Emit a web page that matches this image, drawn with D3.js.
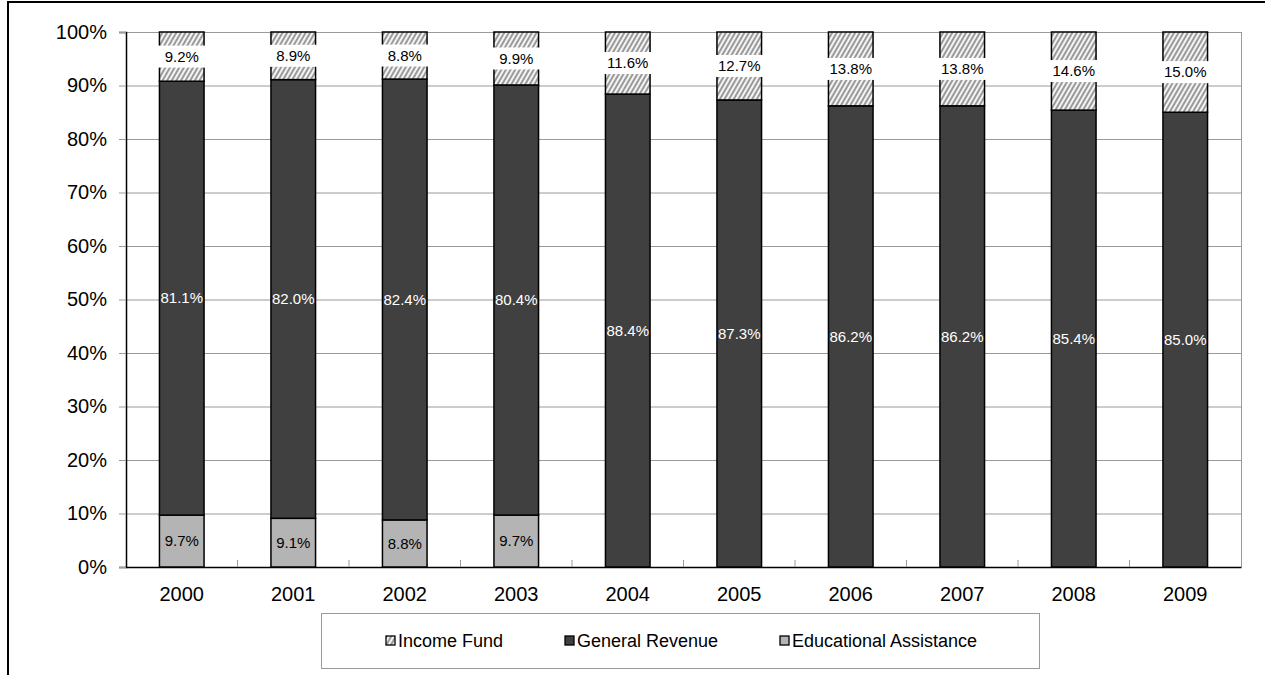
<!DOCTYPE html>
<html>
<head>
<meta charset="utf-8">
<script src="https://cdn.jsdelivr.net/npm/d3@7"></script>
<style>
  html, body { margin: 0; padding: 0; background: #fff; }
  svg { display: block; font-family: "Liberation Sans", Arial, sans-serif; }
</style>
</head>
<body>
<svg id="chart" width="1265" height="675"></svg>
<script>
const years = ["2000","2001","2002","2003","2004","2005","2006","2007","2008","2009"];
const incomeFund = [9.2, 8.9, 8.8, 9.9, 11.6, 12.7, 13.8, 13.8, 14.6, 15.0];
const generalRevenue = [81.1, 82.0, 82.4, 80.4, 88.4, 87.3, 86.2, 86.2, 85.4, 85.0];
const educationalAssistance = [9.7, 9.1, 8.8, 9.7, 0, 0, 0, 0, 0, 0];
const yTicks = [0,10,20,30,40,50,60,70,80,90,100];
const legendLabels = ["Income Fund", "General Revenue", "Educational Assistance"];

(function () {
const svg = d3.select("#chart");
const pLeft = 126, pRight = 1241, pTop = 32, pBottom = 567;

// Outer frame
svg.append("rect").attr("x", 8).attr("y", 2).attr("width", 1300).attr("height", 700)
  .attr("fill", "none").attr("stroke", "#000").attr("stroke-width", 2);

// Hatch pattern
const defs = svg.append("defs");
const pat = defs.append("pattern").attr("id", "hatch").attr("patternUnits", "userSpaceOnUse")
  .attr("width", 4).attr("height", 4).attr("patternTransform", "rotate(30)");
pat.append("rect").attr("width", 4).attr("height", 4).attr("fill", "#f4f4f4");
pat.append("line").attr("x1", 1).attr("y1", 0).attr("x2", 1).attr("y2", 4)
  .attr("stroke", "#6a6a6a").attr("stroke-width", 1.3);

const x = d3.scaleBand().domain(years).range([pLeft, pRight]).paddingInner(0.6).paddingOuter(0.3);
const y = d3.scaleLinear().domain([0, 100]).range([pBottom, pTop]);

// Gridlines
svg.append("g").selectAll("line").data(yTicks.filter(d => d > 0)).join("line")
  .attr("x1", pLeft).attr("x2", pRight)
  .attr("y1", d => y(d) + 0.5).attr("y2", d => y(d) + 0.5)
  .attr("stroke", "#9a9a9a").attr("stroke-width", 1);
// Right border of plot
svg.append("line").attr("x1", pRight + 0.5).attr("x2", pRight + 0.5).attr("y1", pTop).attr("y2", pBottom)
  .attr("stroke", "#9a9a9a").attr("stroke-width", 1);

// Y axis
const yAxis = d3.axisLeft(y).tickValues(yTicks).tickFormat(d => d + "%").tickSize(7).tickPadding(12);
const gy = svg.append("g").attr("transform", `translate(${pLeft},0)`).call(yAxis);
gy.select(".domain").attr("stroke", "#000").attr("stroke-width", 1.5);
gy.selectAll(".tick line").attr("stroke", "#9a9a9a");
gy.selectAll(".tick text").attr("font-size", 20).attr("fill", "#000")
  .attr("font-family", "Liberation Sans, Arial, sans-serif");

// X axis
const xAxis = d3.axisBottom(x).tickSize(0).tickPadding(20);
const gx = svg.append("g").attr("transform", `translate(0,${pBottom})`).call(xAxis);
gx.select(".domain").attr("stroke", "#000").attr("stroke-width", 1.5);
gx.selectAll(".tick text").attr("font-size", 20).attr("fill", "#000")
  .attr("font-family", "Liberation Sans, Arial, sans-serif");
// tick marks between categories
const step = x.step();
const boundaries = d3.range(1, years.length).map(i => pLeft + i * step);
svg.append("g").selectAll("line").data(boundaries).join("line")
  .attr("x1", d => d).attr("x2", d => d).attr("y1", pBottom - 7).attr("y2", pBottom)
  .attr("stroke", "#9a9a9a");

// Stacked data
const rows = years.map((yr, i) => ({
  year: yr, edu: educationalAssistance[i], gen: generalRevenue[i], inc: incomeFund[i]
}));
const stack = d3.stack().keys(["edu", "gen", "inc"]);
const series = stack(rows);
const fills = { edu: "#b4b4b4", gen: "#404040", inc: "url(#hatch)" };

const bars = svg.append("g");
series.forEach(s => {
  bars.append("g").selectAll("rect").data(s.filter(d => d[1] - d[0] > 0)).join("rect")
    .attr("x", d => x(d.data.year))
    .attr("width", x.bandwidth())
    .attr("y", d => y(d[1]))
    .attr("height", d => y(d[0]) - y(d[1]))
    .attr("fill", fills[s.key])
    .attr("stroke", "#000").attr("stroke-width", 1.5);
});

// Labels
const labels = svg.append("g").attr("font-size", 15);
series.forEach(s => {
  s.filter(d => d[1] - d[0] > 0).forEach(d => {
    const cx = x(d.data.year) + x.bandwidth() / 2;
    const cy = y((d[0] + d[1]) / 2);
    const txt = d.data[s.key].toFixed(1) + "%";
    if (s.key === "inc") {
      const t = labels.append("text").attr("x", cx).attr("y", cy).attr("dy", "0.35em")
        .attr("text-anchor", "middle").attr("fill", "#000").text(txt);
      const w = Math.max(t.node().getComputedTextLength() + 6, x.bandwidth() + 3);
      labels.insert("rect", () => t.node())
        .attr("x", cx - w / 2).attr("y", cy - 11).attr("width", w).attr("height", 22)
        .attr("fill", "#fff");
    } else {
      labels.append("text").attr("x", cx).attr("y", cy).attr("dy", "0.35em")
        .attr("text-anchor", "middle")
        .attr("fill", s.key === "gen" ? "#fff" : "#000").text(txt);
    }
  });
});

// Legend
const lg = svg.append("g");
lg.append("rect").attr("x", 321.5).attr("y", 613.5).attr("width", 718).attr("height", 55)
  .attr("fill", "#fff").attr("stroke", "#9a9a9a");
const legendX = [386, 565, 780];
const legendFill = ["url(#hatch)", "#404040", "#b4b4b4"];
legendLabels.forEach((lab, i) => {
  lg.append("rect").attr("x", legendX[i]).attr("y", 636).attr("width", 9).attr("height", 9)
    .attr("fill", legendFill[i]).attr("stroke", "#000").attr("stroke-width", 1.3);
  lg.append("text").attr("x", legendX[i] + 12).attr("y", 641).attr("dy", "0.35em")
    .attr("font-size", 18).attr("fill", "#000").text(lab);
});
})();
</script>
</body>
</html>
